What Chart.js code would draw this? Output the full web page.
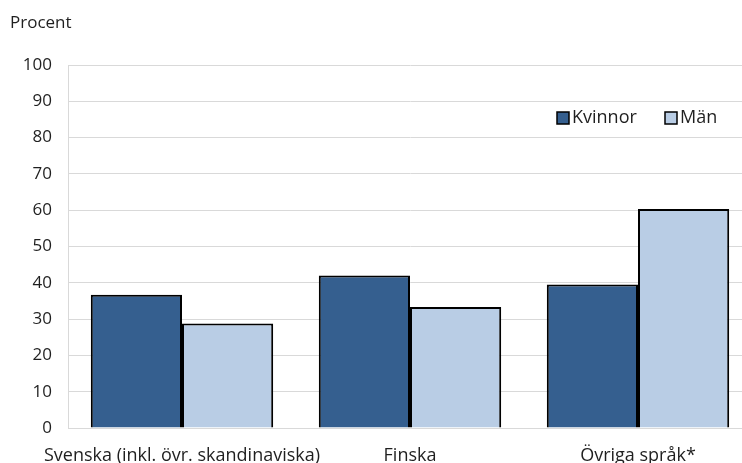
<!DOCTYPE html>
<html>
<head>
<meta charset="utf-8">
<script src="https://cdn.jsdelivr.net/npm/chart.js@4"></script>
<style>
  html, body { margin: 0; padding: 0; background: #fff; overflow: hidden; }
  #wrap { position: relative; width: 760px; height: 463px; }
</style>
</head>
<body>
<div id="wrap"><canvas id="c" width="760" height="463"></canvas></div>
<script>
const categories = ['Svenska (inkl. övr. skandinaviska)', 'Finska', 'Övriga språk*'];
const kvinnor = [36.7, 42.0, 39.5];
const man = [28.8, 33.3, 60.3];
const yTicks = [0, 10, 20, 30, 40, 50, 60, 70, 80, 90, 100];

const FONT = '"Open Sans", sans-serif';
const TEXT = '#1f1f1f';

// legend drawn inside the plot, top right
const insideLegend = {
  id: 'insideLegend',
  afterDraw(chart) {
    const ctx = chart.ctx;
    const items = [{ x: 557 }, { x: 665 }];
    ctx.save();
    ctx.font = '18px ' + FONT;
    ctx.textBaseline = 'middle';
    chart.data.datasets.forEach((ds, i) => {
      const x = items[i].x, y = 118;
      ctx.fillStyle = ds.backgroundColor;
      ctx.fillRect(x, y - 6, 12, 12);
      ctx.strokeStyle = '#000';
      ctx.lineWidth = 1.5;
      ctx.strokeRect(x, y - 6, 12, 12);
      ctx.fillStyle = TEXT;
      ctx.fillText(ds.label, x + 15, y);
    });
    ctx.font = '17px ' + FONT;
    ctx.fillText('Procent', 10, 23);
    ctx.restore();
  }
};

new Chart(document.getElementById('c'), {
  type: 'bar',
  data: {
    labels: categories,
    datasets: [
      { label: 'Kvinnor', data: kvinnor, backgroundColor: '#355F8F', borderColor: '#000', borderWidth: 2 },
      { label: 'Män', data: man, backgroundColor: '#B9CDE5', borderColor: '#000', borderWidth: 2 }
    ]
  },
  options: {
    responsive: false,
    animation: false,
    layout: { padding: { top: 65, right: 8, left: 0, bottom: 0 } },
    datasets: { bar: { categoryPercentage: 0.8, barPercentage: 1.0 } },
    plugins: { legend: { display: false }, tooltip: { enabled: false } },
    scales: {
      x: {
        grid: { display: false, drawTicks: false },
        border: { color: '#D9D9D9', width: 1 },
        ticks: { color: TEXT, font: { family: FONT, size: 18 }, padding: 17, maxRotation: 0, autoSkip: false },
        afterFit(s) { s.height = 35; }
      },
      y: {
        min: 0, max: 100,
        afterBuildTicks(s) { s.ticks = yTicks.map(v => ({ value: v })); },
        grid: { color: '#D9D9D9', lineWidth: 1, drawTicks: false },
        border: { color: '#D9D9D9', width: 1 },
        ticks: { color: TEXT, font: { family: FONT, size: 17 }, padding: 16 },
        afterFit(s) { s.width = 68; }
      }
    }
  },
  plugins: [insideLegend]
});
</script>
</body>
</html>
